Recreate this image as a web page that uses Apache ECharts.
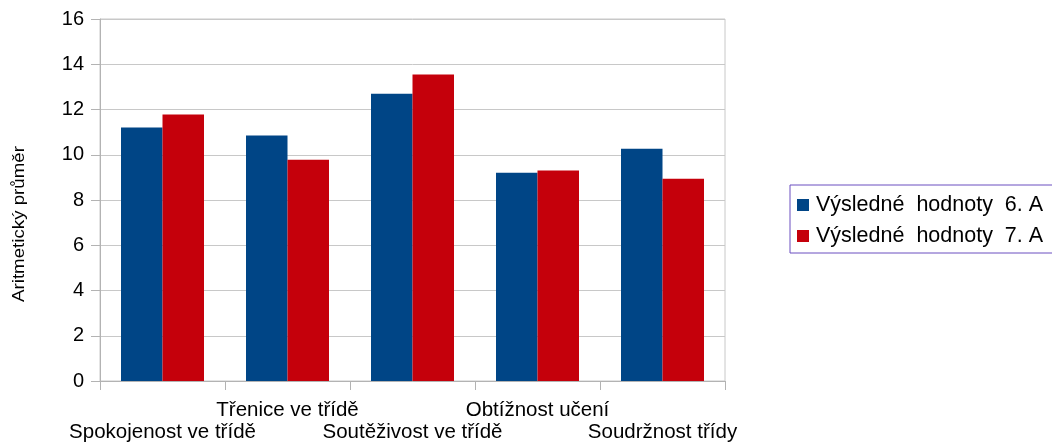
<!DOCTYPE html>
<html>
<head>
<meta charset="utf-8">
<script src="https://cdn.jsdelivr.net/npm/echarts@6/dist/echarts.min.js"></script>
<style>
html,body{margin:0;padding:0;background:#fff;}
#chart{width:1052px;height:443px;}
</style>
</head>
<body>
<div id="chart"></div>
<script>
const categories = ['Spokojenost ve třídě', 'Třenice ve třídě', 'Soutěživost ve třídě', 'Obtížnost učení', 'Soudržnost třídy'];
const seriesNames = ['Výsledné hodnoty 6. A', 'Výsledné hodnoty 7. A'];
const values6A = [11.2, 10.85, 12.7, 9.2, 10.27];
const values7A = [11.78, 9.78, 13.55, 9.3, 8.94];
const yTicks = [0, 2, 4, 6, 8, 10, 12, 14, 16];
const yAxisTitle = 'Aritmetický průměr';

const FONT = '"Liberation Sans", Arial, sans-serif';
const chart = echarts.init(document.getElementById('chart'), null, {renderer: 'canvas'});
chart.setOption({
  animation: false,
  backgroundColor: '#ffffff',
  color: ['#004586', '#c5000b'],
  textStyle: {fontFamily: FONT},
  grid: {
    left: 100, right: 327, top: 19, bottom: 62,
    show: true, borderColor: '#c8c8c8', borderWidth: 1
  },
  graphic: [{
    type: 'text',
    x: 19.5, y: 224,
    rotation: Math.PI / 2,
    scaleX: 1.1,
    style: {
      text: yAxisTitle,
      font: '17px ' + FONT,
      fill: '#000',
      align: 'center',
      verticalAlign: 'middle'
    }
  }],
  legend: {
    orient: 'vertical',
    left: 790, top: 185,
    padding: [9, 30, 6, 7],
    itemGap: 9,
    itemWidth: 12, itemHeight: 12,
    icon: 'rect',
    borderColor: '#6a4fc0',
    borderWidth: 1,
    formatter: function (n) { return n.replace('Výsledné ', 'Výsledné  ').replace('hodnoty ', 'hodnoty  '); },
    textStyle: {fontSize: 21.5, color: '#000', fontFamily: FONT, padding: [0, 0, 0, 2]},
    data: seriesNames
  },
  xAxis: {
    type: 'category',
    data: categories,
    axisLine: {lineStyle: {color: '#b3b3b3', width: 1}},
    axisTick: {show: true, length: 9, lineStyle: {color: '#b3b3b3'}},
    axisLabel: {
      interval: 0,
      margin: 18,
      fontSize: 20.5,
      lineHeight: 22,
      color: '#000',
      fontFamily: FONT,
      formatter: function (v, i) { return i % 2 === 1 ? v + '\n' : '\n' + v; }
    },
    splitLine: {show: false}
  },
  yAxis: {
    type: 'value',
    min: yTicks[0], max: yTicks[yTicks.length - 1], interval: 2,
    axisLine: {show: true, lineStyle: {color: '#b3b3b3', width: 1}},
    axisTick: {show: true, length: 9, lineStyle: {color: '#b3b3b3'}},
    axisLabel: {margin: 16, fontSize: 20, color: '#000', fontFamily: FONT},
    splitLine: {show: true, lineStyle: {color: '#c8c8c8', width: 1}}
  },
  series: [
    {name: seriesNames[0], type: 'bar', data: values6A, barGap: '0%', barCategoryGap: '33.6%'},
    {name: seriesNames[1], type: 'bar', data: values7A, barGap: '0%', barCategoryGap: '33.6%'}
  ]
});
</script>
</body>
</html>
